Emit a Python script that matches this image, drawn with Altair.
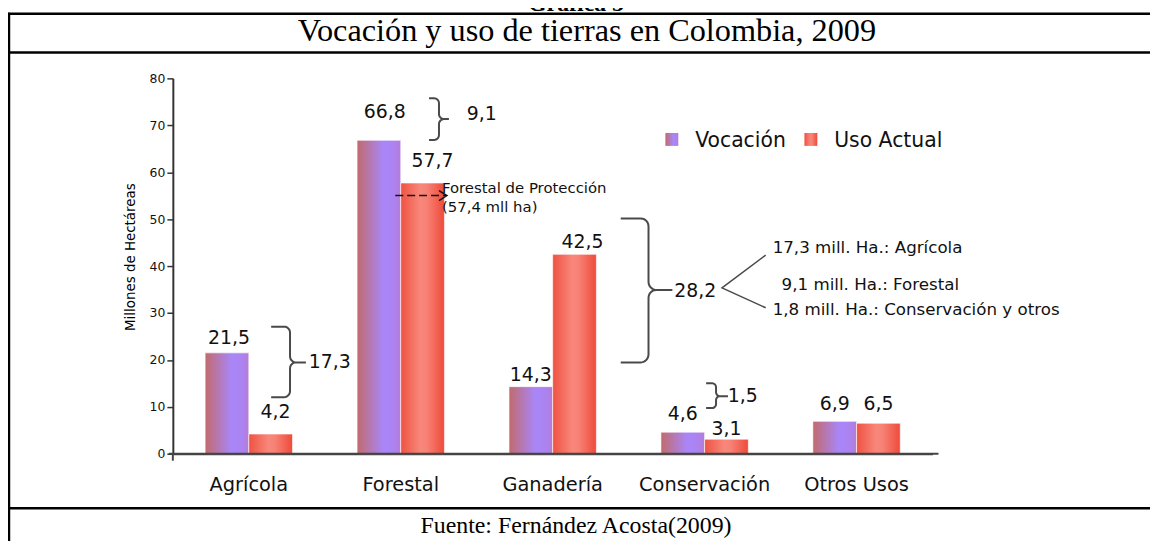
import math
import altair as alt
import pandas as pd

# ---------------- data ----------------
categories = ["Agrícola", "Forestal", "Ganadería", "Conservación", "Otros Usos"]
series_names = ["Vocación", "Uso Actual"]
vocacion = [21.5, 66.8, 14.3, 4.6, 6.9]
uso_actual = [4.2, 57.7, 42.5, 3.1, 6.5]
y_ticks = [0, 10, 20, 30, 40, 50, 60, 70, 80]

header_text = "Gráfica 5"
title_text = "Vocación y uso de tierras en Colombia, 2009"
source_text = "Fuente: Fernández Acosta(2009)"
y_title = "Millones de Hectáreas"
gap_labels = ["17,3", "9,1", "28,2", "1,5"]
breakdown = ["17,3 mill. Ha.: Agrícola", "9,1 mill. Ha.: Forestal",
             "1,8 mill. Ha.: Conservación y otros"]
arrow_note = ["Forestal de Protección", "(57,4 mll ha)"]


def fmt(v):
    return f"{v:.1f}".replace(".", ",")


rows = []
for c, v, u in zip(categories, vocacion, uso_actual):
    rows.append({"cat": c, "series": "Vocación", "value": v, "label": fmt(v)})
    rows.append({"cat": c, "series": "Uso Actual", "value": u, "label": fmt(u)})
df = pd.DataFrame(rows)

# ---------------- layout ----------------
W, H = 765, 378
OX, OY = 174, 77          # page position of the plot origin
SANS = "DejaVu Sans"
SERIF = "Liberation Serif"
INK = "#111111"
BRACE = "#4a4a4a"


def px(x):
    return x - OX


def py(y):
    return y - OY


grad_voc = {"gradient": "linear", "x1": 0, "x2": 1, "y1": 0, "y2": 0,
            "stops": [{"offset": 0, "color": "#c26a6c"},
                      {"offset": 0.6, "color": "#a986f8"},
                      {"offset": 0.85, "color": "#ab83f0"},
                      {"offset": 1, "color": "#b67bd6"}]}
grad_uso = {"gradient": "linear", "x1": 0, "x2": 1, "y1": 0, "y2": 0,
            "stops": [{"offset": 0, "color": "#ef5242"},
                      {"offset": 0.45, "color": "#f8877b"},
                      {"offset": 0.6, "color": "#f78174"},
                      {"offset": 1, "color": "#ee4a3a"}]}

x_scale = alt.Scale(domain=categories, paddingInner=0.425, paddingOuter=0.2125)
off_scale = alt.Scale(domain=series_names, paddingInner=0, paddingOuter=0)
y_scale = alt.Scale(domain=[0, 80], nice=False, zero=True)

x_axis = alt.Axis(title=None, labelAngle=0, ticks=False, labelPadding=22,
                  labelFont=SANS, labelFontSize=19.5, labelColor=INK,
                  domainColor="#444444", domainWidth=2, grid=False)
y_axis = alt.Axis(title=None, values=y_ticks, grid=False, tickSize=6,
                  labelPadding=2, labelFont=SANS, labelFontSize=12.5,
                  labelColor="#111111", domainColor="#333333", domainWidth=2,
                  tickColor="#333333", tickWidth=1.5)

X_ENC = alt.X("cat:N", sort=categories, scale=x_scale, axis=x_axis)
OFF_ENC = alt.XOffset("series:N", sort=series_names, scale=off_scale)
Y_ENC = alt.Y("value:Q", scale=y_scale, axis=y_axis)


def bar_layer(name, grad):
    return alt.Chart(df).transform_filter(alt.datum.series == name).mark_bar(
        color=grad, stroke="#ffffff", strokeWidth=0.6
    ).encode(x=X_ENC, xOffset=OFF_ENC, y=Y_ENC)


data_layers = [bar_layer("Vocación", grad_voc), bar_layer("Uso Actual", grad_uso)]

# value labels above the bars (lift of label centre above bar top, and dx)
lift = {"Vocación": [15, 28, 12, 18, 17], "Uso Actual": [22, 22, 12, 10, 19]}
shift = {"Vocación": [2, 6, 0, 0, 0], "Uso Actual": [5, 10, 8, 0, 0]}
for i, r in df.iterrows():
    k = categories.index(r["cat"])
    data_layers.append(
        alt.Chart(df.iloc[[i]]).mark_text(
            font=SANS, fontSize=19, color=INK, baseline="middle",
            dy=-lift[r["series"]][k], dx=shift[r["series"]][k]
        ).encode(x=X_ENC, xOffset=OFF_ENC, y=Y_ENC, text="label:N")
    )

# ---------- annotation layers in pixel space (identity scales) ----------
ann_xs = alt.Scale(domain=[0, W], range=[0, W], nice=False, zero=False)
ann_ys = alt.Scale(domain=[0, H], range=[0, H], nice=False, zero=False)


def pix_x(f="x"):
    return alt.X(f"{f}:Q", scale=ann_xs, axis=None)


def pix_y(f="y"):
    return alt.Y(f"{f}:Q", scale=ann_ys, axis=None)


def text_layer(items, **kw):
    d = pd.DataFrame([{"x": px(a), "y": py(b), "t": t} for a, b, t in items])
    return alt.Chart(d).mark_text(**kw).encode(x=pix_x(), y=pix_y(), text="t:N")


def rule_layer(segs, **kw):
    d = pd.DataFrame([{"x": px(a), "x2": px(b), "y": py(c), "y2": py(e)}
                      for a, b, c, e in segs])
    return alt.Chart(d).mark_rule(**kw).encode(x=pix_x(), x2="x2:Q",
                                               y=pix_y(), y2="y2:Q")


ann = []
# document frame
ann.append(rule_layer([(8, 1158, 12, 12), (8, 1158, 51, 51), (8, 1158, 510, 510),
                       (9, 9, 11, 545)], color="#000000", strokeWidth=2.5))
# small axis-line overhangs
ann.append(rule_layer([(174, 174, 455, 462), (170, 945, 455, 455)],
                      color="#444444", strokeWidth=2))

ann.append(text_layer([(580, 9.5, header_text)], font=SERIF, fontSize=24,
                      fontWeight="bold", color="#000000", baseline="alphabetic"))
ann.append(text_layer([(591, 39, title_text)], font=SERIF, fontSize=32.5,
                      color="#000000", baseline="alphabetic"))
ann.append(text_layer([(580, 535, source_text)], font=SERIF, fontSize=24,
                      color="#000000", baseline="alphabetic"))

# y-axis title
ann.append(text_layer([(132, 257, y_title)], font=SANS, fontSize=13.5,
                      color="#000000", angle=270, baseline="middle"))

# legend
leg = pd.DataFrame([
    {"x": px(670), "x2": px(683), "y": py(132), "y2": py(145), "s": "Vocación"},
    {"x": px(810), "x2": px(823), "y": py(132), "y2": py(145), "s": "Uso Actual"},
])
ann.append(alt.Chart(leg).transform_filter(alt.datum.s == "Vocación").mark_rect(
    color=grad_voc).encode(x=pix_x(), x2="x2:Q", y=pix_y(), y2="y2:Q"))
ann.append(alt.Chart(leg).transform_filter(alt.datum.s == "Uso Actual").mark_rect(
    color=grad_uso).encode(x=pix_x(), x2="x2:Q", y=pix_y(), y2="y2:Q"))
ann.append(text_layer([(700, 140, series_names[0]), (840, 140, series_names[1])],
                      font=SANS, fontSize=20.5, color=INK, align="left",
                      baseline="middle"))


# braces
def brace(bid, x0, x1, top, bot, mid, xt, r):
    pts = [(x0, top)]
    for k in range(7):
        a = math.radians(-90 + 15 * k)
        pts.append((x1 - r + r * math.cos(a), top + r + r * math.sin(a)))
    for k in range(7):
        a = math.radians(180 - 15 * k)
        pts.append((x1 + r + r * math.cos(a), mid - r + r * math.sin(a)))
    pts.append((xt, mid))
    for k in range(7):
        a = math.radians(-90 - 15 * k)
        pts.append((x1 + r + r * math.cos(a), mid + r + r * math.sin(a)))
    for k in range(7):
        a = math.radians(15 * k)
        pts.append((x1 - r + r * math.cos(a), bot - r + r * math.sin(a)))
    pts.append((x0, bot))
    return [{"id": bid, "o": i, "x": px(a), "y": py(b)} for i, (a, b) in enumerate(pts)]


br = pd.DataFrame(
    brace("a", 273, 292, 327, 398, 363, 308, 6)
    + brace("f", 432, 442, 97, 139, 118, 452, 5)
    + brace("g", 625, 653, 218, 363, 290, 677, 8)
    + brace("c", 711, 721, 384, 409, 397, 733, 4)
)
ann.append(alt.Chart(br).mark_line(color=BRACE, strokeWidth=2).encode(
    x=pix_x(), y=pix_y(), detail="id:N", order="o:Q"))

ann.append(text_layer([(332, 363, gap_labels[0]), (485, 113, gap_labels[1]),
                       (700, 291, gap_labels[2]), (748, 397, gap_labels[3])],
                      font=SANS, fontSize=19, color=INK, baseline="middle"))

# chevron to the breakdown
chev = pd.DataFrame([{"o": i, "x": px(a), "y": py(b)} for i, (a, b) in
                     enumerate([(771, 255), (727, 288), (771, 308)])])
ann.append(alt.Chart(chev).mark_line(color=BRACE, strokeWidth=1.5).encode(
    x=pix_x(), y=pix_y(), order="o:Q"))
ann.append(text_layer([(778, 248, breakdown[0]), (787, 285, breakdown[1]),
                       (778, 310, breakdown[2])],
                      font=SANS, fontSize=16.8, color=INK, align="left",
                      baseline="middle"))

# dashed arrow to "Forestal de Protección"
arr = pd.DataFrame([{"o": 0, "x": px(398), "y": py(195)},
                    {"o": 1, "x": px(449), "y": py(195)}])
head = pd.DataFrame([{"o": i, "x": px(a), "y": py(b)} for i, (a, b) in
                     enumerate([(442, 190), (450, 195), (442, 200)])])
ann.append(alt.Chart(arr).mark_line(color="#111111", strokeWidth=1.5,
                                    strokeDash=[8, 4]).encode(
    x=pix_x(), y=pix_y(), order="o:Q"))
ann.append(alt.Chart(head).mark_line(color="#111111", strokeWidth=1.5).encode(
    x=pix_x(), y=pix_y(), order="o:Q"))
ann.append(text_layer([(445, 187, arrow_note[0]), (445, 207, arrow_note[1])],
                      font=SANS, fontSize=15, color=INK, align="left",
                      baseline="middle"))

chart = alt.layer(alt.layer(*data_layers), alt.layer(*ann)).resolve_scale(
    x="independent", y="independent"
).properties(
    width=W, height=H,
    autosize=alt.AutoSizeParams(type="none"),
    padding={"left": OX - 8, "top": OY - 8, "right": 1150 - (OX - 8) - W,
             "bottom": 533 - (OY - 8) - H},
    background="#ffffff",
).configure_view(strokeWidth=0)

chart.save("out.html", embed_options={"renderer": "svg", "actions": False})
